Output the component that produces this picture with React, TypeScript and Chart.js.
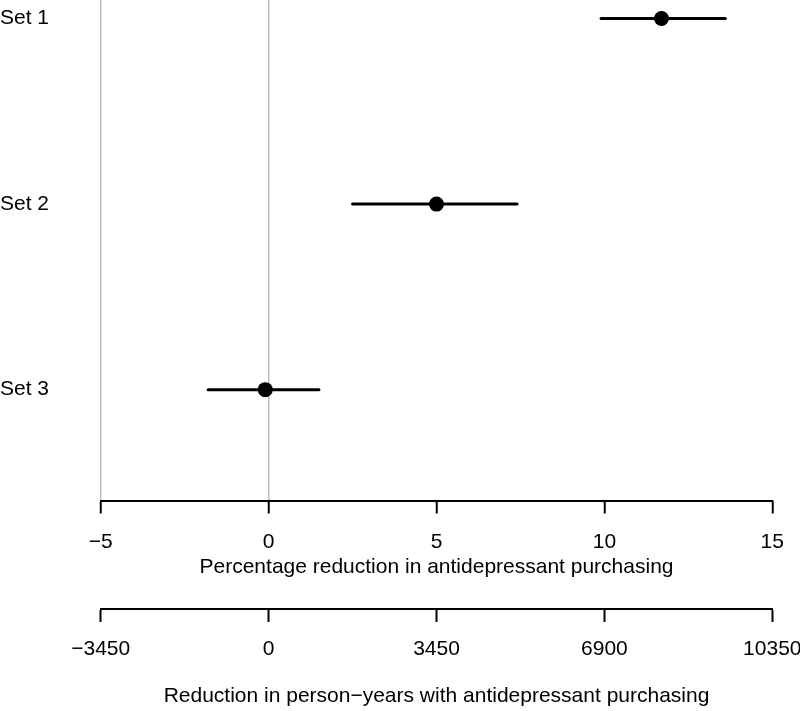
import React, { useEffect, useRef } from "react";
import { Chart, registerables } from "chart.js";

Chart.register(...registerables);

const categories = ["Set 1", "Set 2", "Set 3"];
const estimates = [11.7, 5.0, -0.1];
const lower = [9.9, 2.5, -1.8];
const upper = [13.6, 7.4, 1.5];
const rowPositions = [3, 2, 1];

const pctTicks = [-5, 0, 5, 10, 15];
const personYearTicks = [-3450, 0, 3450, 6900, 10350];
const refLines = [-5, 0];

const FONT = "'Liberation Sans', Arial, Helvetica, sans-serif";
const fmt = (v: number) => String(v).replace("-", "\u2212");

export default function App() {
  const ref = useRef<HTMLCanvasElement | null>(null);

  useEffect(() => {
    if (!ref.current) return;
    Chart.defaults.font.family = FONT;
    Chart.defaults.color = "#000";

    const ciSets = categories.map((c, i) => ({
      type: "line" as const,
      label: c + " CI",
      data: [
        { x: lower[i], y: rowPositions[i] },
        { x: upper[i], y: rowPositions[i] },
      ],
      borderColor: "#000",
      borderWidth: 3,
      borderCapStyle: "round" as const,
      pointRadius: 0,
      showLine: true,
      xAxisID: "x",
      yAxisID: "y",
    }));

    const pointSet = {
      type: "scatter" as const,
      label: "Estimate",
      data: estimates.map((e, i) => ({ x: e, y: rowPositions[i] })),
      backgroundColor: "#000",
      borderWidth: 0,
      pointRadius: 7.5,
      xAxisID: "x",
      yAxisID: "y",
    };

    const zeroPad = (s: any) => {
      s.paddingLeft = 0;
      s.paddingRight = 0;
      s.paddingTop = 0;
      s.paddingBottom = 0;
    };

    const chart = new Chart(ref.current, {
      type: "scatter",
      data: { datasets: [...ciSets, pointSet] as any },
      options: {
        animation: false,
        responsive: true,
        maintainAspectRatio: false,
        layout: { autoPadding: false, padding: { left: 0, right: 27.7, top: 0, bottom: 0 } },
        plugins: { legend: { display: false }, tooltip: { enabled: false } },
        scales: {
          x: {
            type: "linear",
            position: "bottom",
            weight: 0,
            min: -5,
            max: 15,
            afterBuildTicks: (s: any) => {
              s.ticks = pctTicks.map((v) => ({ value: v }));
            },
            afterFit: (s: any) => {
              s.height = 108;
              zeroPad(s);
            },
            ticks: {
              callback: (v: any) => fmt(Number(v)),
              font: { size: 21, lineHeight: 1 },
              padding: 18,
              maxRotation: 0,
              autoSkip: false,
              color: "#000",
            },
            grid: {
              drawOnChartArea: true,
              drawTicks: true,
              tickLength: 12.5,
              tickWidth: 2,
              tickColor: "#000",
              lineWidth: 1.5,
              color: (ctx: any) =>
                ctx.tick && refLines.includes(ctx.tick.value) ? "#bebebe" : "rgba(0,0,0,0)",
            },
            border: { display: true, color: "#000", width: 2 },
            title: {
              display: true,
              text: "Percentage reduction in antidepressant purchasing",
              font: { size: 21, lineHeight: 1 },
              padding: { top: 0, bottom: 31 },
              color: "#000",
            },
          },
          x2: {
            type: "linear",
            position: "bottom",
            weight: 1,
            min: -3450,
            max: 10350,
            afterBuildTicks: (s: any) => {
              s.ticks = personYearTicks.map((v) => ({ value: v }));
            },
            afterFit: (s: any) => {
              s.height = 102;
              zeroPad(s);
            },
            ticks: {
              callback: (v: any) => fmt(Number(v)),
              font: { size: 21, lineHeight: 1 },
              padding: 17,
              maxRotation: 0,
              autoSkip: false,
              color: "#000",
            },
            grid: {
              drawOnChartArea: false,
              drawTicks: true,
              tickLength: 13,
              tickWidth: 2,
              tickColor: "#000",
            },
            border: { display: true, color: "#000", width: 2 },
            title: {
              display: true,
              text: "Reduction in person\u2212years with antidepressant purchasing",
              font: { size: 21, lineHeight: 1 },
              padding: { top: 0, bottom: 4.5 },
              color: "#000",
            },
          },
          y: {
            type: "linear",
            position: "left",
            min: 0.4,
            max: 3.1,
            afterBuildTicks: (s: any) => {
              s.ticks = rowPositions.map((v) => ({ value: v }));
            },
            afterFit: (s: any) => {
              s.width = 100.7;
              zeroPad(s);
            },
            ticks: {
              callback: (v: any) => {
                const i = rowPositions.indexOf(Number(v));
                return i >= 0 ? categories[i] : "";
              },
              crossAlign: "far",
              padding: 0,
              font: { size: 21, lineHeight: 1 },
              color: "#000",
            },
            grid: { display: false, drawTicks: false },
            border: { display: false },
          },
        },
      },
    });
    return () => chart.destroy();
  }, []);

  return (
    <div style={{ position: "absolute", left: 0, top: 0, width: 800, height: 711 }}>
      <canvas ref={ref} />
    </div>
  );
}
